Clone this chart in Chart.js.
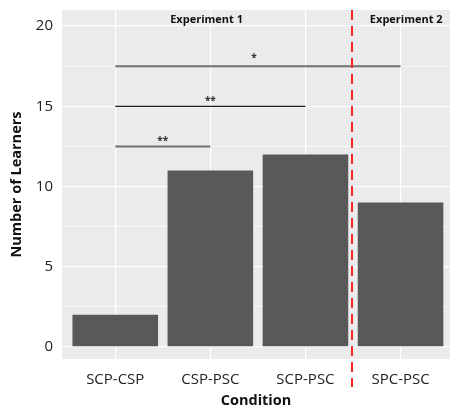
<!DOCTYPE html>
<html>
<head>
<meta charset="utf-8">
<script src="https://cdn.jsdelivr.net/npm/chart.js@4"></script>
<style>
  html, body { margin: 0; padding: 0; background: #fff; }
  #wrap { width: 452px; height: 410px; }
</style>
</head>
<body>
<div id="wrap"><canvas id="chart" width="452" height="410"></canvas></div>
<script>
// Data
const conditions = ['SCP-CSP', 'CSP-PSC', 'SCP-PSC', 'SPC-PSC'];
const learners = [2, 11, 12, 9];
const yTicks = [0, 5, 10, 15, 20];

// significance brackets: from condition -> to condition, height, label
const compFrom = [1, 1, 1];
const compTo = [2, 3, 4];
const compY = [12.5, 15, 17.5];
const compLabel = ['**', '**', '*'];

// experiment panels
const expLabels = ['Experiment 1', 'Experiment 2'];
const expX = [1.96, 4.06];
const expY = [20.4, 20.4];
const dividerX = 3.5;

const FONT = "'Open Sans', 'Noto Sans', sans-serif";

// grey panel behind the plot
const panelBg = {
  id: 'panelBg',
  beforeDraw(chart) {
    const { ctx, chartArea: a } = chart;
    ctx.save();
    ctx.fillStyle = '#ebebeb';
    ctx.fillRect(a.left, a.top, a.right - a.left, a.bottom - a.top);
    ctx.restore();
  }
};

// brackets, stars, experiment labels and the red divider
const annotations = {
  id: 'annotations',
  afterDatasetsDraw(chart) {
    const { ctx, scales: { x, y } } = chart;
    ctx.save();
    compY.forEach((v, i) => {
      const x0 = x.getPixelForValue(compFrom[i]);
      const x1 = x.getPixelForValue(compTo[i]);
      const py = y.getPixelForValue(v);
      ctx.beginPath();
      ctx.strokeStyle = i === 1 ? '#1e1e1e' : '#707070';
      ctx.lineWidth = i === 1 ? 1.3 : 2;
      ctx.moveTo(x0, py);
      ctx.lineTo(x1, py);
      ctx.stroke();
      ctx.fillStyle = '#333';
      ctx.font = 'bold 10px ' + FONT;
      ctx.textAlign = 'center';
      ctx.textBaseline = 'middle';
      ctx.fillText(compLabel[i], (x0 + x1) / 2 - (i === 2 ? 4 : 0), py - (i === 2 ? 8 : 5));
    });
    ctx.fillStyle = '#111';
    ctx.font = 'bold 11px ' + FONT;
    ctx.textAlign = 'center';
    ctx.textBaseline = 'middle';
    expLabels.forEach((t, i) => {
      ctx.fillText(t, x.getPixelForValue(expX[i]), y.getPixelForValue(expY[i]));
    });
    ctx.restore();
  },
  afterDraw(chart) {
    const { ctx, chartArea: a, scales: { x } } = chart;
    const px = x.getPixelForValue(dividerX) - 1;
    ctx.save();
    ctx.strokeStyle = '#f42828';
    ctx.lineWidth = 2;
    ctx.setLineDash([10, 6]);
    ctx.beginPath();
    ctx.moveTo(px, a.top);
    ctx.lineTo(px, 387);
    ctx.stroke();
    ctx.restore();
  }
};

new Chart(document.getElementById('chart'), {
  type: 'bar',
  data: {
    datasets: [{
      data: conditions.map((c, i) => ({ x: i + 1, y: learners[i] })),
      backgroundColor: '#595959',
      borderWidth: 0,
      barPercentage: 0.9,
      categoryPercentage: 1
    }]
  },
  options: {
    responsive: false,
    animation: false,
    layout: { padding: { top: 10, right: 2, left: 0, bottom: 0 } },
    plugins: { legend: { display: false }, tooltip: { enabled: false } },
    scales: {
      x: {
        type: 'linear',
        min: 0.44,
        max: 4.52,
        offset: false,
        afterFit(s) { s.height = 51; s.paddingLeft = 0; s.paddingRight = 0; },
        grid: { color: '#ffffff', lineWidth: 1.2, drawTicks: false, offset: false },
        border: { display: false },
        ticks: {
          stepSize: 1,
          includeBounds: false,
          padding: 12,
          color: '#222',
          font: { family: FONT, size: 15 },
          callback: v => conditions[v - 1] || ''
        },
        title: {
          display: true,
          text: 'Condition',
          color: '#111',
          font: { family: FONT, size: 14.5, weight: 'bold' },
          padding: { top: 0, bottom: 0 }
        }
      },
      y: {
        min: -0.75,
        max: 21,
        afterFit(s) { s.width = 62; s.paddingTop = 0; s.paddingBottom = 0; },
        grid: {
          color: '#ffffff',
          lineWidth: c => (c.tick && c.tick.value % 5 === 0) ? 1.2 : 0.6,
          drawTicks: false
        },
        border: { display: false },
        ticks: {
          stepSize: 2.5,
          includeBounds: false,
          padding: 9,
          color: '#222',
          font: { family: FONT, size: 15 },
          callback: v => yTicks.includes(v) ? String(v) : ''
        },
        title: {
          display: true,
          text: 'Number of Learners',
          color: '#111',
          font: { family: FONT, size: 14.5, weight: 'bold' },
          padding: { top: 8, bottom: 0 }
        }
      }
    }
  },
  plugins: [panelBg, annotations]
});
</script>
</body>
</html>
